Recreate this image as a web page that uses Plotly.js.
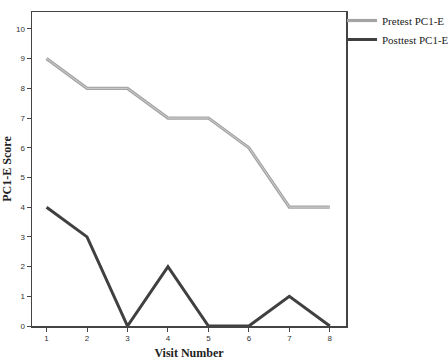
<!DOCTYPE html>
<html><head><meta charset="utf-8">
<script src="https://cdn.plot.ly/plotly-3.0.1.min.js"></script>
<style>html,body{margin:0;padding:0;background:#fff;}#chart{width:448px;height:360px;}</style>
</head><body><div id="chart"></div>
<script>
var visits = [1, 2, 3, 4, 5, 6, 7, 8];
var pretest = [9, 8, 8, 7, 7, 6, 4, 4];
var posttest = [4, 3, 0, 2, 0, 0, 1, 0];
var yTicks = [0, 1, 2, 3, 4, 5, 6, 7, 8, 9, 10];

var traces = [
  {x: visits, y: pretest, type: 'scatter', mode: 'lines', name: 'Pretest PC1-E',
   line: {color: '#a3a3a3', width: 3.2}},
  {x: visits, y: pretest, type: 'scatter', mode: 'lines', showlegend: false, hoverinfo: 'skip',
   line: {color: '#cfcfcf', width: 1}},
  {x: visits, y: posttest, type: 'scatter', mode: 'lines', name: 'Posttest PC1-E',
   line: {color: '#404040', width: 3}}
];

var layout = {
  width: 448, height: 360,
  margin: {l: 32, r: 102, t: 12, b: 34, autoexpand: false},
  paper_bgcolor: '#fff', plot_bgcolor: '#fff',
  showlegend: true,
  legend: {xref: 'container', yref: 'container', x: 342 / 448, xanchor: 'left', y: 1 - 6 / 360, yanchor: 'top',
    font: {family: 'Liberation Serif, Times New Roman, serif', size: 11, color: '#222'},
    tracegroupgap: 0, itemwidth: 30, bgcolor: 'rgba(0,0,0,0)'},
  xaxis: {range: [0.64, 8.4], tickvals: visits, ticks: 'outside', ticklen: 4, tickcolor: '#444',
    showgrid: false, zeroline: false, showline: true, mirror: true, linecolor: '#444', linewidth: 1.5,
    tickfont: {family: 'Liberation Sans, Arial, sans-serif', size: 8, color: '#333'},
    title: {text: '<b>Visit Number</b>', standoff: 6,
      font: {family: 'Liberation Serif, Times New Roman, serif', size: 12, color: '#222'}}},
  yaxis: {range: [0, 10.57], tickvals: yTicks, ticks: 'outside', ticklen: 4, tickcolor: '#444',
    showgrid: false, zeroline: false, showline: true, mirror: true, linecolor: '#444', linewidth: 1.5,
    tickfont: {family: 'Liberation Sans, Arial, sans-serif', size: 8, color: '#333'},
    title: {text: '<b>PC1-E Score</b>', standoff: 6,
      font: {family: 'Liberation Serif, Times New Roman, serif', size: 12, color: '#222'}}}
};

Plotly.newPlot('chart', traces, layout, {displayModeBar: false, staticPlot: true});
</script></body></html>
